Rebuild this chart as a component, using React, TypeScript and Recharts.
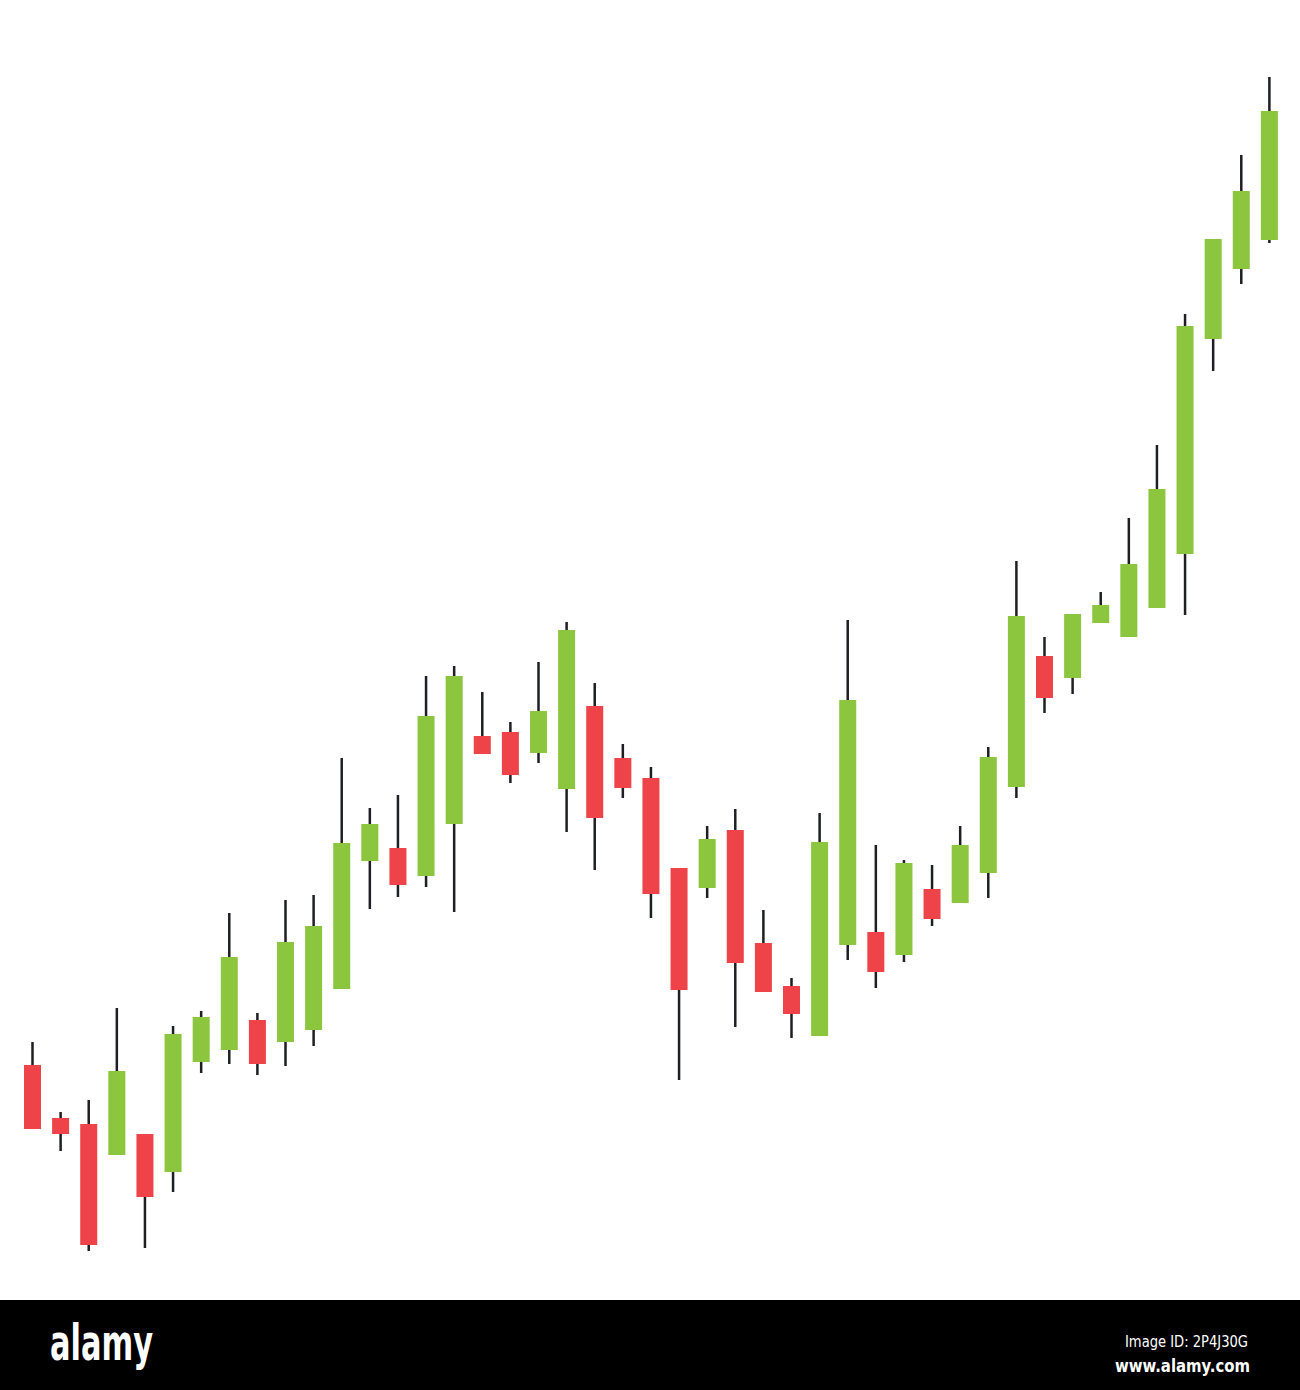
import { ComposedChart, Bar, XAxis, YAxis } from 'recharts';

// prices, one entry per candle
const opens = [
  23.5, 18.2, 17.6, 14.5, 16.6, 12.8, 23.8, 25.0, 28.0, 25.8, 27.0, 31.1, 43.9, 45.2, 42.4,
  47.6, 56.4, 56.8, 54.7, 51.1, 59.4, 54.2, 52.2, 43.2, 41.2, 47.0, 35.7, 31.4, 26.4, 35.5,
  36.8, 34.5, 41.1, 39.7, 42.7, 51.3, 64.4, 62.2, 67.7, 66.3, 69.2, 74.6, 96.1, 103.1, 106.0,
];
const highs = [
  25.8, 18.8, 20.0, 29.2, 16.6, 27.4, 28.9, 38.7, 28.7, 40.0, 40.5, 54.2, 49.2, 50.5, 62.4,
  63.4, 60.8, 57.8, 63.8, 67.8, 61.7, 55.6, 53.3, 43.2, 47.4, 49.1, 39.0, 32.2, 48.7, 68.0,
  45.5, 44.0, 43.5, 47.4, 55.3, 73.9, 66.3, 68.6, 70.8, 78.2, 85.5, 98.6, 106.1, 114.5, 122.3,
];
const lows = [
  17.1, 14.9, 4.9, 14.5, 5.2, 10.8, 22.7, 23.6, 22.5, 23.4, 25.4, 31.1, 39.1, 40.3, 41.3,
  38.8, 54.6, 51.7, 53.7, 46.8, 43.0, 50.2, 38.2, 22.0, 40.2, 27.3, 30.8, 26.2, 26.4, 34.0,
  31.2, 33.8, 37.4, 39.7, 40.2, 50.2, 58.7, 60.6, 67.7, 66.3, 69.2, 68.5, 92.9, 101.6, 105.7,
];
const closes = [
  17.1, 16.6, 5.5, 22.9, 10.3, 26.6, 28.3, 34.3, 23.6, 35.8, 37.4, 45.7, 47.6, 41.5, 58.4,
  62.4, 54.6, 52.5, 58.9, 67.0, 48.2, 51.2, 40.6, 31.0, 46.1, 33.7, 30.8, 28.6, 45.8, 60.0,
  32.8, 43.7, 38.1, 45.5, 54.3, 68.4, 60.2, 68.6, 69.5, 73.6, 81.1, 97.4, 106.1, 110.9, 118.9,
];

const UP = '#8cc63f';
const DOWN = '#ee4349';
const WICK = '#1d1f24';

const data = opens.map((open, i) => ({
  day: i + 1,
  open,
  high: highs[i],
  low: lows[i],
  close: closes[i],
}));

const Candle = (props: any) => {
  const { x, y, width, height, payload } = props;
  const { open, close, high, low } = payload;
  const top = Math.min(y, y + height);
  const span = Math.abs(height);
  // pixels per price unit, taken from the bar the scale already drew
  const ratio = high - low > 0 ? span / (high - low) : 0;
  const bodyTop = top + (high - Math.max(open, close)) * ratio;
  const bodyH = Math.max(Math.abs(open - close) * ratio, 1);
  const cx = x + width / 2;
  return (
    <g>
      <line x1={cx} x2={cx} y1={top} y2={top + span} stroke={WICK} strokeWidth={2.5} />
      <rect x={x} y={bodyTop} width={width} height={bodyH} fill={close >= open ? UP : DOWN} />
    </g>
  );
};

const Footer = () => (
  <svg width={1300} height={90} style={{ display: 'block' }}>
    <rect x={0} y={0} width={1300} height={90} fill="#000" />
    <text
      x={50}
      y={60}
      fill="#fff"
      fontFamily="'DejaVu Sans Condensed', 'DejaVu Sans'"
      fontWeight="bold"
      fontSize={50}
      textLength={103}
      lengthAdjust="spacingAndGlyphs"
    >
      alamy
    </text>
    <text
      x={1125}
      y={47}
      fill="#fff"
      fontFamily="'DejaVu Sans Condensed', 'DejaVu Sans'"
      fontSize={16}
      textLength={123}
      lengthAdjust="spacingAndGlyphs"
    >
      Image ID: 2P4J30G
    </text>
    <text
      x={1115}
      y={72}
      fill="#fff"
      fontFamily="'DejaVu Sans Condensed', 'DejaVu Sans'"
      fontWeight="bold"
      fontSize={18}
      textLength={135}
      lengthAdjust="spacingAndGlyphs"
    >
      www.alamy.com
    </text>
  </svg>
);

export default function App() {
  return (
    <div style={{ position: 'absolute', left: 0, top: 0, width: 1300, background: '#fff' }}>
      <ComposedChart width={1300} height={1300} data={data} margin={{ top: 0, right: 17, bottom: 0, left: 18 }}>
        <XAxis dataKey="day" hide />
        <YAxis hide domain={[0, 130]} />
        <Bar
          dataKey={(d: any) => [d.low, d.high]}
          barSize={17}
          shape={<Candle />}
          isAnimationActive={false}
        />
      </ComposedChart>
      <Footer />
    </div>
  );
}
